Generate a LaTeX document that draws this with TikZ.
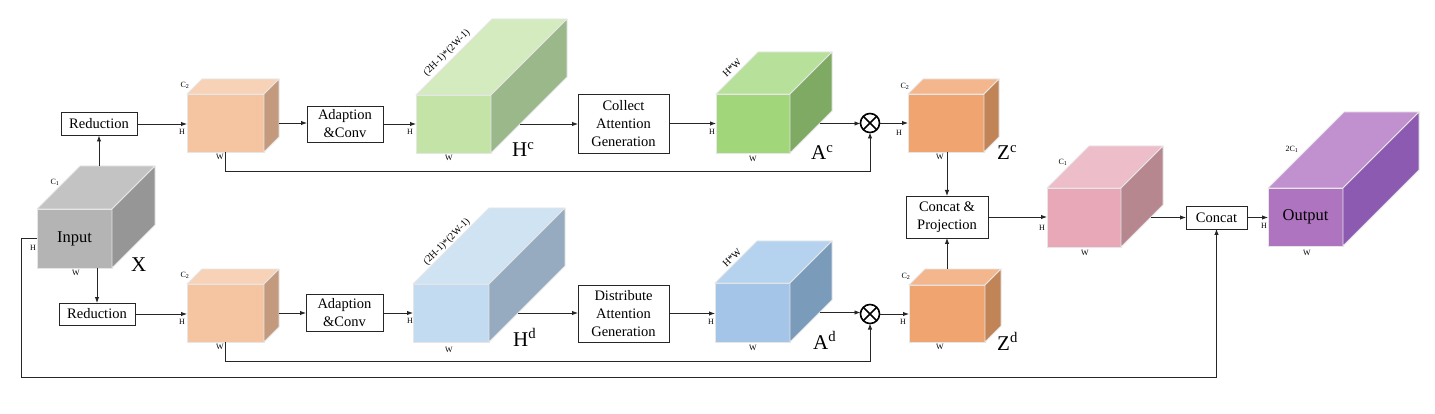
\documentclass[tikz,border=0pt]{standalone}
\usepackage{fontspec}
\setmainfont{Liberation Serif}
\usetikzlibrary{arrows.meta}
\definecolor{edgecol}{HTML}{E6E6E6}
\definecolor{grayF}{HTML}{B4B4B4}\definecolor{grayT}{HTML}{C3C3C3}\definecolor{grayS}{HTML}{969696}
\definecolor{peachF}{HTML}{F5C4A1}\definecolor{peachT}{HTML}{F7D2B7}\definecolor{peachS}{HTML}{C49A7E}
\definecolor{lgreenF}{HTML}{C4E3A6}\definecolor{lgreenT}{HTML}{D3EBBE}\definecolor{lgreenS}{HTML}{9BB88A}
\definecolor{greenF}{HTML}{A2D67A}\definecolor{greenT}{HTML}{B7E09A}\definecolor{greenS}{HTML}{7FAA63}
\definecolor{orangeF}{HTML}{F0A570}\definecolor{orangeT}{HTML}{F3B68D}\definecolor{orangeS}{HTML}{C08457}
\definecolor{pinkF}{HTML}{E8A8B8}\definecolor{pinkT}{HTML}{EDBDCA}\definecolor{pinkS}{HTML}{B78790}
\definecolor{purpF}{HTML}{AE74C0}\definecolor{purpT}{HTML}{C190CF}\definecolor{purpS}{HTML}{8C5AB1}
\definecolor{lblueF}{HTML}{C3DBF0}\definecolor{lblueT}{HTML}{CFE3F3}\definecolor{lblueS}{HTML}{97ABC0}
\definecolor{blueF}{HTML}{A5C5E8}\definecolor{blueT}{HTML}{B5D3EE}\definecolor{blueS}{HTML}{7A9BBA}
\definecolor{linecol}{HTML}{262626}
\tikzset{
  box/.style={draw=linecol, line width=0.9pt, fill=white, inner sep=0pt, outer sep=0pt, align=center,
    font=\fontsize{14.5}{18}\selectfont},
  cubefront/.style={draw=edgecol, line width=0.8pt, inner sep=0pt, outer sep=0pt,
    font=\fontsize{16.5}{19}\selectfont},
  cubeface/.style={draw=edgecol, line width=0.8pt, line join=round},
  lab/.style={font=\fontsize{8}{9}\selectfont, inner sep=0pt},
  rlab/.style={font=\fontsize{10}{11}\selectfont, inner sep=0pt, rotate=45},
  big/.style={font=\fontsize{21}{24}\selectfont, inner sep=0pt, anchor=base west},
  arr/.style={draw=linecol, line width=0.9pt, -{Latex[length=6pt,width=4.5pt]}},
  mul/.style={circle, draw=black, line width=1.6pt, minimum size=19pt, inner sep=0pt, outer sep=0pt},
}
% #1 name, #2 x, #3 y (front centre), #4 width, #5 height, #6 depth, #7 colour prefix, #8 text
\newcommand\drawcube[8]{%
  \node[cubefront, fill=#7F, minimum width=#4pt, minimum height=#5pt] (#1) at (#2,#3) {#8};
  \filldraw[cubeface, fill=#7T] (#1.north west) -- ++(#6,-#6) -- ++(#4,0) -- (#1.north east) -- cycle;
  \filldraw[cubeface, fill=#7S] (#1.north east) -- ++(#6,-#6) -- ++(0,#5) -- (#1.south east) -- cycle;
  \path (#1.north) ++(#6,-#6) coordinate (#1-back);
  \pgfmathsetmacro{\cbex}{min(#6,#5/2)}%
  \path (#1.east) ++(\cbex,0) coordinate (#1-x);
}
\newcommand\mulnode[3]{%
  \node[mul] (#1) at (#2,#3) {};
  \draw[line width=1.6pt] (#1.north west) -- (#1.south east) (#1.north east) -- (#1.south west);
}
\begin{document}
\begin{tikzpicture}[x=1pt, y=-1pt]
\useasboundingbox (0,0) rectangle (1435,414);
\fill[white] (0,0) rectangle (1435,414);

% cubes
\drawcube{inp}{74.5}{238.5}{75}{59}{43}{gray}{Input}
\drawcube{rc}{225.5}{123}{77}{58}{15}{peach}{}
\drawcube{rd}{225.5}{313}{77}{58}{15}{peach}{}
\drawcube{hc}{453.5}{124}{75}{58}{76}{lgreen}{}
\drawcube{hd}{451}{313}{76}{58}{76}{lblue}{}
\drawcube{ac}{753}{123.5}{74}{59}{42}{green}{}
\drawcube{ad}{752.5}{312.5}{75}{59}{42}{blue}{}
\drawcube{zc}{946}{123}{76}{58}{15}{orange}{}
\drawcube{zd}{947}{313.5}{76}{57}{16}{orange}{}
\drawcube{pk}{1084}{217.5}{74}{59}{42}{pink}{}
\drawcube{out}{1305.5}{217}{75}{58}{76}{purp}{Output}

% boxes
\node[box, minimum width=76pt, minimum height=23pt] (red1) at (99,124) {Reduction};
\node[box, minimum width=76pt, minimum height=22pt] (red2) at (97,314) {Reduction};
\node[box, minimum width=76pt, minimum height=36pt] (adc) at (345,124) {Adaption\\\&Conv};
\node[box, minimum width=77pt, minimum height=37pt] (add) at (344.5,313) {Adaption\\\&Conv};
\node[box, minimum width=91pt, minimum height=59pt] (col) at (623.5,123.5) {Collect\\Attention\\Generation};
\node[box, minimum width=91pt, minimum height=57pt] (dis) at (623.5,313.5) {Distribute\\Attention\\Generation};
\node[box, minimum width=82pt, minimum height=42pt] (cp) at (947,217) {Concat \&\\Projection};
\node[box, minimum width=61pt, minimum height=23pt] (cat) at (1216.5,217.5) {Concat};

\mulnode{m1}{870}{123}
\mulnode{m2}{870}{314}

% small labels
\node[lab] (inpC) at (55,182) {C\textsubscript{1}};
\node[lab] (inpH) at (33,248) {H};
\node[lab] (inpW) at (76,273) {W};
\node[lab] (rcC) at (185,85) {C\textsubscript{2}};
\node[lab] (rcH) at (182,132) {H};
\node[lab] (rcW) at (220,157) {W};
\node[lab] (rdC) at (185,275) {C\textsubscript{2}};
\node[lab] (rdH) at (182,322) {H};
\node[lab] (rdW) at (220,347) {W};
\node[rlab] (hcR) at (447,53) {(2H-1)*(2W-1)};
\node[lab] (hcH) at (410,132) {H};
\node[lab] (hcW) at (449,158) {W};
\node[rlab] (hdR) at (447,242) {(2H-1)*(2W-1)};
\node[lab] (hdH) at (410,321) {H};
\node[lab] (hdW) at (449,350) {W};
\node[rlab] (acR) at (732,68) {H*W};
\node[lab] (acH) at (712,132) {H};
\node[lab] (acW) at (753,159) {W};
\node[rlab] (adR) at (732,258) {H*W};
\node[lab] (adH) at (711,322) {H};
\node[lab] (adW) at (753,348) {W};
\node[lab] (zcC) at (905,86) {C\textsubscript{2}};
\node[lab] (zcH) at (899,133) {H};
\node[lab] (zcW) at (940,157) {W};
\node[lab] (zdC) at (906,276) {C\textsubscript{2}};
\node[lab] (zdH) at (903,322) {H};
\node[lab] (zdW) at (940,347) {W};
\node[lab] (pkC) at (1063,162) {C\textsubscript{1}};
\node[lab] (pkH) at (1042,228) {H};
\node[lab] (pkW) at (1085,253) {W};
\node[lab] (outC) at (1292,149) {2C\textsubscript{1}};
\node[lab] (outH) at (1264,226) {H};
\node[lab] (outW) at (1307,253) {W};

% big labels
\node[big] (lX) at (131,272) {X};
\node[big] (lHc) at (512,157) {H\textsuperscript{c}};
\node[big] (lHd) at (513,346) {H\textsuperscript{d}};
\node[big] (lAc) at (811,160) {A\textsuperscript{c}};
\node[big] (lAd) at (813,349) {A\textsuperscript{d}};
\node[big] (lZc) at (997,160) {Z\textsuperscript{c}};
\node[big] (lZd) at (997,350) {Z\textsuperscript{d}};

% connectors
\draw[arr] (red1.south |- inp-back) -- (red1.south);
\draw[arr] (red2.north |- inp.south) -- (red2.north);
\draw[arr] (red1.east) -- (red1.east -| rc.west);
\draw[arr] (red2.east) -- (red2.east -| rd.west);
\draw[arr] (rc-x) -- (rc-x -| adc.west);
\draw[arr] (rd-x) -- (rd-x -| add.west);
\draw[arr] (adc.east) -- (adc.east -| hc.west);
\draw[arr] (add.east) -- (add.east -| hd.west);
\draw[arr] (hc-x) -- (hc-x -| col.west);
\draw[arr] (hd-x) -- (hd-x -| dis.west);
\draw[arr] (col.east) -- (col.east -| ac.west);
\draw[arr] (dis.east) -- (dis.east -| ad.west);
\draw[arr] (ac-x) -- (ac-x -| m1.west);
\draw[arr] (ad-x) -- (ad-x -| m2.west);
\draw[arr] (m1.east) -- (m1.east -| zc.west);
\draw[arr] (m2.east) -- (m2.east -| zd.west);
\draw[arr] (rc.south) -- ++(0,19) -| (m1.south);
\draw[arr] (rd.south) -- ++(0,19) -| (m2.south);
\draw[arr] (cp.north |- zc.south) -- (cp.north);
\draw[arr] (cp.south |- zd-back) -- (cp.south);
\draw[arr] (cp.east) -- (cp.east -| pk.west);
\draw[arr] (pk-x) -- (pk-x -| cat.west);
\draw[arr] (cat.east) -- (cat.east -| out.west);
\draw[arr] (inp.west) -- ++(-16,0) -- ++(0,139) -| (cat.south);
\end{tikzpicture}
\end{document}
